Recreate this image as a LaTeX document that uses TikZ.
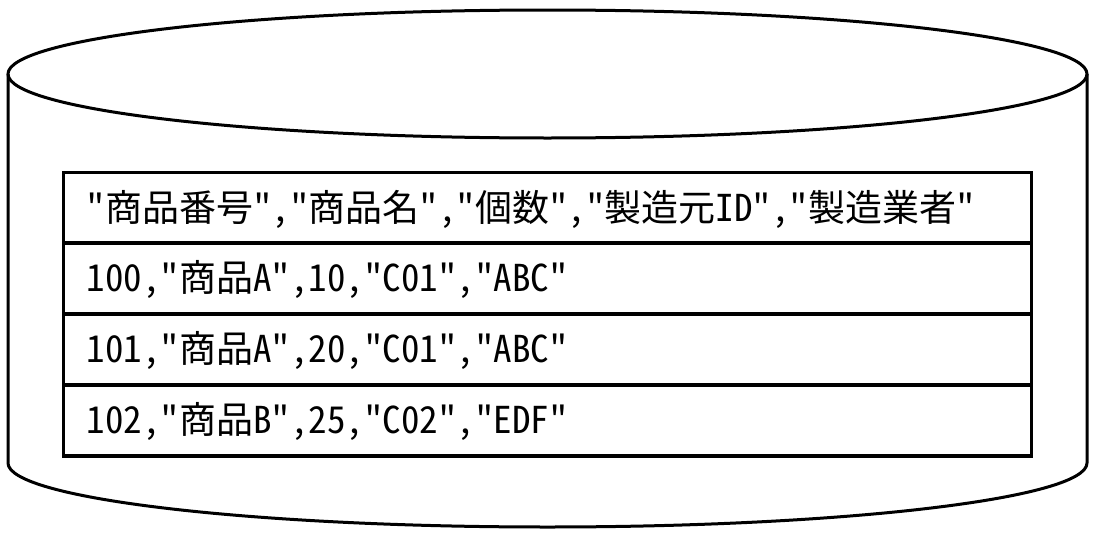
\documentclass[tikz,border=0pt]{standalone}
\usepackage{fontspec}
\newfontfamily\jp[RawFeature=+hwid]{Noto Sans CJK JP}
\begin{document}
\begin{tikzpicture}[x=1pt,y=-1pt,
  cyl/.style={line width=3pt,draw=black},
  rowbox/.style={draw=black,line width=3.5pt,minimum width=968pt,minimum height=71pt,inner sep=0pt},
  rowtext/.style={anchor=west,inner sep=0pt,font=\jp\fontsize{37}{40}\selectfont}]
\useasboundingbox (0,0) rectangle (1095,538);
% cylinder
\draw[cyl] (8,74) -- (8,463) arc[start angle=180,end angle=360,x radius=539.5,y radius=-64] -- (1087,74);
\draw[cyl] (547.5,74) ellipse[x radius=539.5,y radius=64];
% table rows
\node[rowbox] (r1) at (547.5,208) {};
\node[rowbox] (r2) at (547.5,278.5) {};
\node[rowbox] (r3) at (547.5,349.5) {};
\node[rowbox] (r4) at (547.5,420.5) {};
\node[rowtext] (t1) at ([xshift=25pt,yshift=-1pt]r1.west) {"商品番号","商品名","個数","製造元ID","製造業者"};
\node[rowtext] (t2) at ([xshift=25pt,yshift=-1pt]r2.west) {100,"商品A",10,"C01","ABC"};
\node[rowtext] (t3) at ([xshift=25pt,yshift=-1pt]r3.west) {101,"商品A",20,"C01","ABC"};
\node[rowtext] (t4) at ([xshift=25pt,yshift=-1pt]r4.west) {102,"商品B",25,"C02","EDF"};
\end{tikzpicture}
\end{document}
